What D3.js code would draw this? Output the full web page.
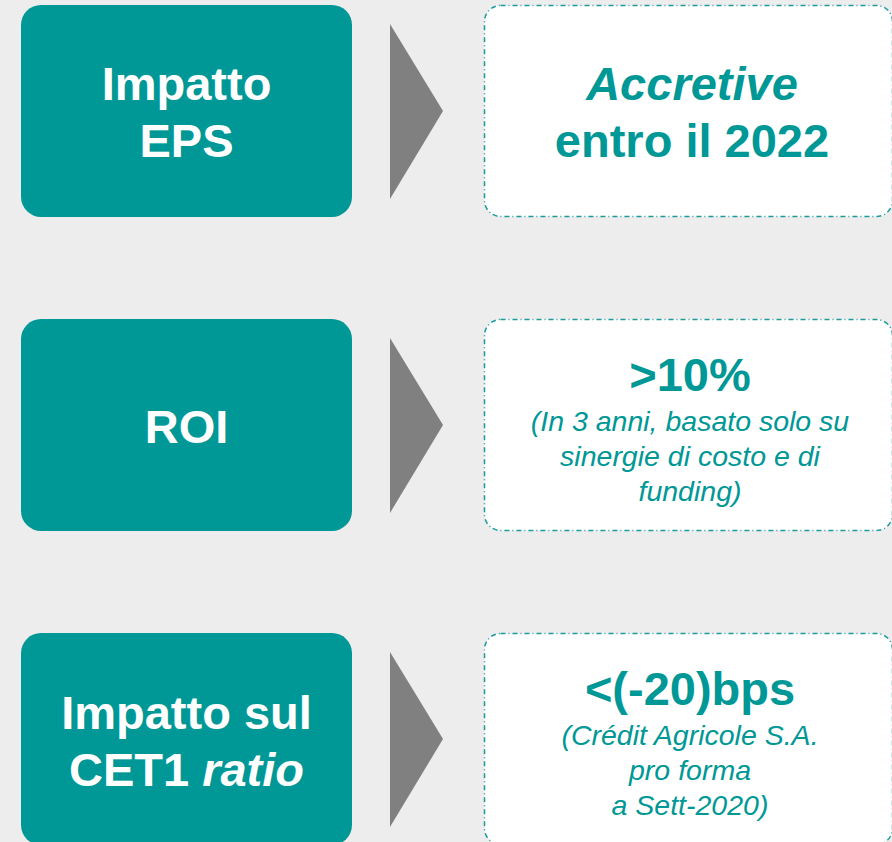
<!DOCTYPE html>
<html>
<head>
<meta charset="utf-8">
<script src="https://d3js.org/d3.v7.min.js"></script>
<style>
  html, body { margin: 0; padding: 0; background: #ededed; }
  svg { display: block; }
</style>
</head>
<body>
<script>
// text between _ _ is set in italics
const metricLines   = [["Impatto", "EPS"], ["ROI"], ["Impatto sul", "CET1 _ratio_"]];
const headlineLines = [["_Accretive_", "entro il 2022"], [">10%"], ["<(-20)bps"]];
const noteLines     = [
    [],
    ["(In 3 anni, basato solo su", "sinergie di costo e di", "funding)"],
    ["(Crédit Agricole S.A.", "pro forma", "a Sett-2020)"]
];

const width  = 892;
const height = 842;
const teal   = "#009896";
const font   = "'Liberation Sans', Arial, sans-serif";

const svg = d3.select("body").append("svg")
    .attr("width", width)
    .attr("height", height)
    .style("font-family", font);

svg.append("rect")
    .attr("width", width)
    .attr("height", height)
    .attr("fill", "#ededed");

///////////
/// Rows ///
///////////

let rows = d3.scaleBand()
    .domain(d3.range(metricLines.length))
    .range([5, 845])
    .paddingInner(0.325)
    .paddingOuter(0);

let bh = rows.bandwidth();

// split "_x_" markup into [text, italic] segments
function segments(line) {
    return line.split("_").map((s, i) => [s, i % 2 === 1]).filter(d => d[0] !== "");
}

function writeLine(sel, line, x, y, size, weight, italic, color) {
    let t = sel.append("text")
        .attr("x", x)
        .attr("y", y)
        .attr("text-anchor", "middle")
        .attr("fill", color)
        .style("font-size", size + "px")
        .style("font-weight", weight);
    segments(line).forEach(s => {
        t.append("tspan")
            .style("font-style", (italic || s[1]) ? "italic" : "normal")
            .text(s[0]);
    });
}

const rowG = svg.selectAll("g.row")
    .data(d3.range(metricLines.length))
    .enter()
    .append("g")
    .attr("class", "row")
    .attr("transform", i => "translate(0," + rows(i) + ")");

// left box
rowG.append("rect")
    .attr("x", 21)
    .attr("y", 0)
    .attr("width", 331)
    .attr("height", bh)
    .attr("rx", 20)
    .attr("fill", teal);

// arrow
rowG.append("path")
    .attr("d", d3.line()([[390, 19], [443, bh / 2], [390, bh - 18]]) + "Z")
    .attr("fill", "#808080");

// right box
rowG.append("rect")
    .attr("x", 484.5)
    .attr("y", 0.5)
    .attr("width", 408)
    .attr("height", bh - 1)
    .attr("rx", 16)
    .attr("fill", "#ffffff")
    .attr("stroke", "#1a9c9a")
    .attr("stroke-width", 1.5)
    .attr("stroke-dasharray", "5,3,1,3");

//////////////
/// Labels ///
//////////////

const bigSize = 47;
const bigLead = 57;

rowG.each(function (i) {
    let g = d3.select(this);

    let lines = metricLines[i];
    let first = bh / 2 - (lines.length - 1) * bigLead / 2 + 18;
    lines.forEach((l, k) => writeLine(g, l, 186.5, first + k * bigLead, bigSize, "bold", false, "#ffffff"));

    let heads = headlineLines[i];
    let notes = noteLines[i];
    if (notes.length === 0) {
        let y0 = bh / 2 - (heads.length - 1) * bigLead / 2 + 18;
        heads.forEach((l, k) => writeLine(g, l, 692, y0 + k * bigLead, bigSize, "bold", false, teal));
    } else {
        let y0 = 71.5;
        heads.forEach((l, k) => writeLine(g, l, 690, y0 + k * bigLead, bigSize, "bold", false, teal));
        notes.forEach((l, k) => writeLine(g, l, 690, y0 + 40 + k * 35, 28.5, "normal", true, teal));
    }
});
</script>
</body>
</html>
